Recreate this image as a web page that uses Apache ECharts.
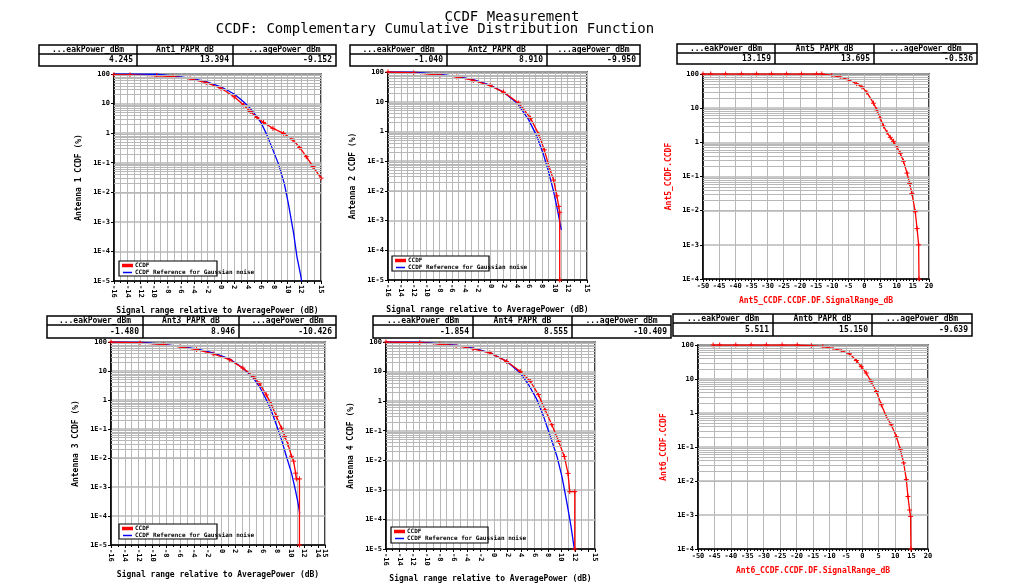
<!DOCTYPE html>
<html><head><meta charset="utf-8">
<script src="https://cdn.jsdelivr.net/npm/echarts@6/dist/echarts.min.js"></script>
<style>html,body{margin:0;padding:0;background:#fff}#c{width:1012px;height:586px}</style>
</head><body><div id="c"></div>
<script>
// ---------------- DATA ----------------
const titleLine1 = 'CCDF Measurement';
const titleLine2 = 'CCDF: Complementary Cumulative Distribution Function';

const tableHeaders = [
  ['...eakPower_dBm', 'Ant1_PAPR_dB', '...agePower_dBm'],
  ['...eakPower_dBm', 'Ant2_PAPR_dB', '...agePower_dBm'],
  ['...eakPower_dBm', 'Ant5_PAPR_dB', '...agePower_dBm'],
  ['...eakPower_dBm', 'Ant3_PAPR_dB', '...agePower_dBm'],
  ['...eakPower_dBm', 'Ant4_PAPR_dB', '...agePower_dBm'],
  ['...eakPower_dBm', 'Ant6_PAPR_dB', '...agePower_dBm']
];
const tableValues = [
  ['4.245', '13.394', '-9.152'],
  ['-1.040', '8.910', '-9.950'],
  ['13.159', '13.695', '-0.536'],
  ['-1.480', '8.946', '-10.426'],
  ['-1.854', '8.555', '-10.409'],
  ['5.511', '15.150', '-9.639']
];

const xNameRel = 'Signal range relative to AveragePower (dB)';
const yNames = ['Antenna 1 CCDF (%)', 'Antenna 2 CCDF (%)', 'Ant5_CCDF.CCDF', 'Antenna 3 CCDF (%)', 'Antenna 4 CCDF (%)', 'Ant6_CCDF.CCDF'];
const xNames = [xNameRel, xNameRel, 'Ant5_CCDF.CCDF.DF.SignalRange_dB', xNameRel, xNameRel, 'Ant6_CCDF.CCDF.DF.SignalRange_dB'];
const legendNames = ['CCDF', 'CCDF Reference for Gaussian noise'];

// Antenna 1
const ant1X   = [-16, -13.6, -9.6, -7.2, -4.6, -2.2, 0, 2, 3.4, 4.4, 5.4, 6.4, 7.8, 9.4, 10.8, 11.8, 12.8, 13.8, 15];
const ant1Y   = [95, 93, 87, 81, 69, 51, 33, 17, 8.9, 5.4, 3.4, 2.3, 1.45, 0.98, 0.59, 0.33, 0.16, 0.074, 0.030];
const ant1RefX = [-16, -9.6, -7.2, -4.6, -2.2, 0, 2, 3.4, 4.4, 5.4, 6.1, 6.9, 7.6, 8.6, 9.5, 10.1, 10.9, 11.4, 11.9, 12.1];
const ant1RefY = [100, 98, 87, 72, 55, 37, 21, 11.5, 6.9, 3.6, 2.1, 0.87, 0.35, 0.095, 0.020, 0.0043, 0.00041, 0.000066, 0.000018, 0.00001];
// Antenna 2
const ant2X   = [-16, -12, -7.9, -5.3, -2.7, -0.1, 2.0, 4.35, 6.2, 7.5, 8.35, 9.0, 9.8, 10.3, 10.6, 10.75, 10.75];
const ant2Y   = [100, 93, 78, 68, 52, 35, 21, 9.1, 2.8, 0.78, 0.24, 0.076, 0.023, 0.0068, 0.0030, 0.0019, 0.00001];
const ant2RefX = [-16, -12, -7.9, -5.3, -2.7, -0.1, 2.0, 4.1, 5.9, 7.2, 8.25, 9.0, 9.8, 10.4, 10.85, 11.0];
const ant2RefY = [100, 98, 83, 71, 55, 36, 21, 9.1, 2.5, 0.68, 0.16, 0.045, 0.0095, 0.0023, 0.00071, 0.00049];
// Antenna 5
const ant5X = [-50, -47.6, -43.0, -38.1, -33.4, -28.8, -24.1, -19.5, -14.8, -13.2, -10.1, -7.5, -5.0, -2.4, -0.8, 0.75, 2.8, 3.85, 4.9, 5.9, 7.0, 8.0, 9.0, 10.1, 11.1, 12.1, 13.2, 14.0, 14.7, 15.75, 16.3, 16.8, 16.9];
const ant5Y = [100, 100, 100, 100, 100, 100, 100, 100, 100, 100, 91, 81, 68, 52, 42, 29, 14, 8.9, 5.1, 3.0, 1.95, 1.4, 1.07, 0.72, 0.48, 0.28, 0.126, 0.063, 0.032, 0.0093, 0.0030, 0.0010, 0.0001];
// Antenna 3
const ant3X   = [-16, -11.8, -8.4, -6.0, -3.6, -1.2, 1.2, 3.1, 4.6, 5.55, 6.5, 7.25, 7.95, 8.7, 9.15, 9.65, 10.15, 10.45, 10.75, 10.85, 11.3, 11.3];
const ant3Y   = [100, 93, 81, 68, 55, 39, 24.5, 12.6, 6.6, 3.6, 1.5, 0.69, 0.275, 0.107, 0.056, 0.029, 0.0115, 0.0078, 0.0030, 0.0019, 0.0019, 0.00001];
const ant3RefX = [-16, -11.3, -8.4, -6.0, -3.6, -1.2, 1.2, 3.1, 4.6, 5.55, 6.5, 7.25, 7.95, 8.7, 9.4, 10.15, 10.7, 11.1, 11.34];
const ant3RefY = [100, 96, 83, 71, 58, 42, 26, 12.6, 5.8, 2.8, 1.02, 0.41, 0.14, 0.043, 0.0115, 0.0030, 0.00081, 0.00028, 0.00012];
// Antenna 4
const ant4X   = [-16, -11, -8, -5.6, -3.1, -0.6, 1.9, 3.9, 5.4, 6.6, 7.6, 8.6, 9.6, 10.45, 11.0, 11.25, 12.0, 12.0];
const ant4Y   = [100, 95, 85, 76, 59, 43, 22, 10.2, 4.7, 1.66, 0.51, 0.16, 0.044, 0.0135, 0.0036, 0.00087, 0.00087, 0.00001];
const ant4RefX = [-16, -10.95, -7.98, -5.5, -3.02, -0.55, 1.93, 3.91, 5.15, 6.39, 7.38, 8.37, 9.36, 10.1, 10.85, 11.44, 11.84, 11.94];
const ant4RefY = [100, 98, 87, 78, 62, 43, 22, 8.9, 3.6, 1.12, 0.30, 0.065, 0.0135, 0.0028, 0.00035, 0.000058, 0.0000138, 0.00001];
// Antenna 6
const ant6X = [-45.4, -43.4, -38.5, -33.8, -29.2, -24.4, -19.8, -15.5, -12, -8.9, -6.4, -3.9, -1.8, -0.3, 1.2, 2.7, 4.3, 5.8, 7.3, 8.8, 10.4, 11.6, 12.6, 13.4, 13.9, 14.4, 14.7, 14.8];
const ant6Y = [100, 100, 100, 100, 100, 100, 100, 95, 89, 79, 68, 55, 35, 23, 15, 8.3, 4.3, 1.74, 0.79, 0.45, 0.20, 0.083, 0.034, 0.011, 0.0035, 0.0014, 0.00091, 0.0001];

// ---------------- LAYOUT ----------------
const grids = [
  {left: 114, top: 74, width: 207, height: 207},
  {left: 388, top: 72, width: 199, height: 208},
  {left: 703, top: 74, width: 226, height: 205},
  {left: 111, top: 342, width: 214, height: 203},
  {left: 386, top: 342, width: 209, height: 207},
  {left: 698, top: 345, width: 230, height: 204}
];
const kinds = ['rel', 'rel', 'abs', 'rel', 'rel', 'abs'];
const tables = [
  {y: 45, cols: [39, 137, 233, 336], mid: 54, bottom: 66},
  {y: 45, cols: [350, 447, 547, 640], mid: 54, bottom: 66},
  {y: 44, cols: [677, 775, 874, 977], mid: 53, bottom: 64},
  {y: 316, cols: [47, 143, 239, 336], mid: 325, bottom: 338},
  {y: 316, cols: [373, 473, 572, 671], mid: 325, bottom: 338},
  {y: 314, cols: [673, 773, 872, 972], mid: 323, bottom: 336}
];
const legendBoxes = [
  {x: 119, y: 261, w: 98, h: 15},
  {x: 392, y: 256, w: 97, h: 15},
  {x: 119, y: 524, w: 98, h: 15},
  {x: 391, y: 527, w: 97, h: 16}
];

const MONO = 'DejaVu Sans Mono';
const GRIDC = '#b8b8b8';
const PLUS = 'path://M0,5L10,5M5,0L5,10';

function pairs(xs, ys) { return xs.map((x, i) => [x, ys[i]]); }
function logFmt(v) {
  if (v >= 1) return String(Math.round(v));
  return '1E' + Math.round(Math.log10(v));
}
function minorVals(lo, hi) {
  const out = [];
  for (let k = lo; k < hi; k++) for (let m = 2; m <= 9; m++) out.push({yAxis: +(m * Math.pow(10, k)).toPrecision(3)});
  return out;
}

const xAxes = [], yAxes = [], series = [];
grids.forEach((g, i) => {
  const rel = kinds[i] === 'rel';
  const isAnt56 = !rel;
  xAxes.push({
    type: 'value', gridIndex: i,
    min: rel ? -16 : -50, max: rel ? 15 : 20, interval: rel ? 2 : 5,
    name: xNames[i], nameLocation: 'middle', nameGap: rel ? 26 : 18,
    nameTextStyle: {fontFamily: MONO, fontWeight: 'bold', fontSize: 8, color: isAnt56 ? '#ff0000' : '#000'},
    axisLine: {show: true, onZero: false, lineStyle: {color: '#000', width: 1.5}},
    axisTick: {show: true, length: 3, lineStyle: {color: '#000'}},
    minorTick: {show: true, splitNumber: rel ? 2 : 5, length: 2, lineStyle: {color: '#000'}},
    axisLabel: {
      fontFamily: MONO, fontWeight: 'bold', fontSize: 7, color: '#000', margin: 4,
      rotate: rel ? -90 : 0, showMinLabel: true, showMaxLabel: true,
      formatter: v => String(v)
    },
    splitLine: {show: true, lineStyle: {color: GRIDC, width: 1}},
    minorSplitLine: {show: rel, lineStyle: {color: GRIDC, width: 1}}
  });
  const ymin = isAnt56 ? 0.0001 : 0.00001;
  yAxes.push({
    type: 'log', logBase: 10, gridIndex: i, min: ymin, max: 100, splitNumber: isAnt56 ? 6 : 7,
    name: yNames[i], nameLocation: 'middle', nameGap: isAnt56 ? 30 : 31,
    nameTextStyle: {fontFamily: MONO, fontWeight: 'bold', fontSize: 8, color: isAnt56 ? '#ff0000' : '#000'},
    axisLine: {show: true, onZero: false, lineStyle: {color: '#000', width: 1.5}},
    axisTick: {show: true, length: 3, lineStyle: {color: '#000'}},
    axisLabel: {fontFamily: MONO, fontWeight: 'bold', fontSize: 7, color: '#000', margin: 4, formatter: logFmt},
    splitLine: {show: true, lineStyle: {color: GRIDC, width: 1.5}}
  });
  // minor log grid lines (drawn as markLines in the library's scale)
  series.push({
    type: 'line', xAxisIndex: i, yAxisIndex: i, data: [], silent: true, z: 1,
    markLine: {silent: true, symbol: 'none', label: {show: false}, animation: false,
      lineStyle: {color: GRIDC, width: 1, type: 'solid'}, data: minorVals(isAnt56 ? -4 : -5, 2)}
  });
});

function redSeries(gi, xs, ys, name) {
  return {
    type: 'line', name: name, xAxisIndex: gi, yAxisIndex: gi, data: pairs(xs, ys),
    color: '#ff0000', lineStyle: {color: '#ff0000', width: 1.3},
    symbol: PLUS, symbolSize: 5, showSymbol: true,
    itemStyle: {color: '#ff0000', borderColor: '#ff0000', borderWidth: 1},
    animation: false, z: 4, clip: true
  };
}
function blueSeries(gi, xs, ys) {
  return {
    type: 'line', name: legendNames[1], xAxisIndex: gi, yAxisIndex: gi, data: pairs(xs, ys),
    color: '#0000ff', lineStyle: {color: '#0000ff', width: 1.3}, symbol: 'none', showSymbol: false,
    animation: false, z: 3, clip: true
  };
}
series.push(blueSeries(0, ant1RefX, ant1RefY), redSeries(0, ant1X, ant1Y, legendNames[0]));
series.push(blueSeries(1, ant2RefX, ant2RefY), redSeries(1, ant2X, ant2Y, legendNames[0]));
series.push(redSeries(2, ant5X, ant5Y, 'Ant5_CCDF.CCDF'));
series.push(blueSeries(3, ant3RefX, ant3RefY), redSeries(3, ant3X, ant3Y, legendNames[0]));
series.push(blueSeries(4, ant4RefX, ant4RefY), redSeries(4, ant4X, ant4Y, legendNames[0]));
series.push(redSeries(5, ant6X, ant6Y, 'Ant6_CCDF.CCDF'));

// ---------------- GRAPHICS: titles, tables, legend boxes ----------------
const graphic = [];
graphic.push({type: 'text', x: 512, y: 10, z: 100,
  style: {text: titleLine1, font: '14px "' + MONO + '"', fill: '#000', textAlign: 'center'}});
graphic.push({type: 'text', x: 435, y: 22, z: 100,
  style: {text: titleLine2, font: '14px "' + MONO + '"', fill: '#000', textAlign: 'center'}});

tables.forEach((t, i) => {
  const c = t.cols;
  const right = c[3];
  graphic.push({type: 'rect', z: 100, shape: {x: c[0], y: t.y, width: right - c[0], height: t.bottom - t.y},
    style: {fill: '#fff', stroke: '#000', lineWidth: 1.5}});
  graphic.push({type: 'line', z: 101, shape: {x1: c[0], y1: t.mid, x2: right, y2: t.mid}, style: {stroke: '#000', lineWidth: 1.5}});
  for (let k = 1; k < 3; k++) {
    graphic.push({type: 'line', z: 101, shape: {x1: c[k], y1: t.y, x2: c[k], y2: t.bottom}, style: {stroke: '#000', lineWidth: 1.5}});
  }
  for (let k = 0; k < 3; k++) {
    graphic.push({type: 'text', z: 102, x: (c[k] + c[k + 1]) / 2, y: (t.y + t.mid) / 2,
      style: {text: tableHeaders[i][k], font: 'bold 8px "' + MONO + '"', fill: '#000', textAlign: 'center', textVerticalAlign: 'middle'}});
    graphic.push({type: 'text', z: 102, x: c[k + 1] - 4, y: (t.mid + t.bottom) / 2,
      style: {text: tableValues[i][k], font: 'bold 8px "' + MONO + '"', fill: '#000', textAlign: 'right', textVerticalAlign: 'middle'}});
  }
});

const legends = [];
legendBoxes.forEach(b => {
  graphic.push({type: 'rect', z: 50, shape: {x: b.x, y: b.y, width: b.w, height: b.h},
    style: {fill: '#fff', stroke: '#000', lineWidth: 1.2}});
  legends.push({
    show: true, data: legendNames, orient: 'vertical', left: b.x + 3, top: b.y + 1, padding: 0, itemGap: 0,
    itemWidth: 9, itemHeight: 1.5, icon: 'rect', selectedMode: false, z: 60,
    textStyle: {fontFamily: MONO, fontWeight: 'bold', fontSize: 6, color: '#000', padding: [0, 0, 0, -2], lineHeight: 7}
  });
});

const chart = echarts.init(document.getElementById('c'), null, {renderer: 'canvas'});
chart.setOption({
  backgroundColor: '#fff',
  animation: false,
  grid: grids.map(g => Object.assign({show: true, borderColor: '#000', borderWidth: 1.5, backgroundColor: 'transparent', containLabel: false}, g)),
  xAxis: xAxes,
  yAxis: yAxes,
  legend: legends,
  series: series,
  graphic: graphic
});
</script>
</body></html>
